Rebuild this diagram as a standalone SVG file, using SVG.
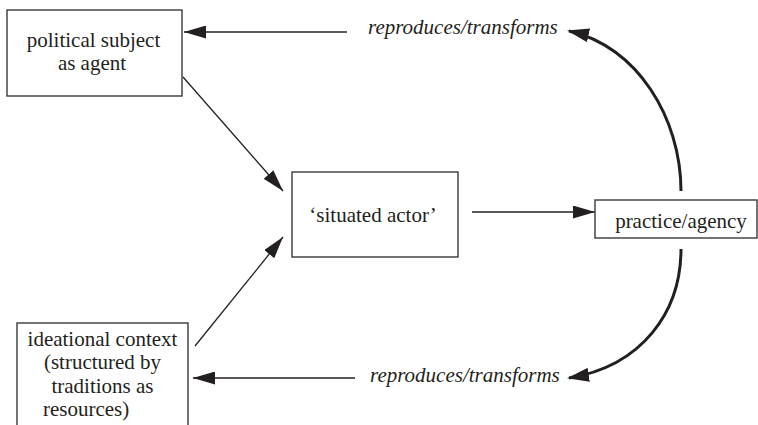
<svg xmlns="http://www.w3.org/2000/svg" width="758" height="425" viewBox="0 0 758 425">
<defs>
<style>
.box{fill:#fff;stroke:#3a3a3a;stroke-width:1.4}
.t{font-family:'Liberation Serif','Tinos','DejaVu Serif',serif;font-size:21px;fill:#231f20}
.it{font-style:italic}
.thin{fill:none;stroke:#231f20;stroke-width:1.3}
.thick{fill:none;stroke:#231f20;stroke-width:3}
</style>
<marker id="ah" markerUnits="userSpaceOnUse" markerWidth="22" markerHeight="13" refX="22" refY="6.5" orient="auto">
<path d="M0,0 L22,6.5 L0,13 z" fill="#231f20"/>
</marker>
<marker id="ahb" markerUnits="userSpaceOnUse" markerWidth="22" markerHeight="14" refX="20" refY="7" orient="auto">
<path d="M0,0 L22,7 L0,14 z" fill="#231f20"/>
</marker>
</defs>
<rect width="758" height="425" fill="#fff"/>
<g id="connectors">
<line class="thin" x1="347" y1="32" x2="184" y2="32" marker-end="url(#ah)"/>
<line class="thin" x1="355" y1="378" x2="193" y2="378" marker-end="url(#ah)"/>
<line class="thin" x1="183" y1="77" x2="283" y2="191" marker-end="url(#ah)"/>
<line class="thin" x1="195" y1="346" x2="283" y2="237" marker-end="url(#ah)"/>
<line class="thin" x1="472" y1="212" x2="595" y2="212" marker-end="url(#ah)"/>
<path class="thick" d="M681,191 C681,118 637,46 569,31" marker-end="url(#ahb)"/>
<path class="thick" d="M681,249 C681,312 642,366 569,378" marker-end="url(#ahb)"/>
</g>
<g id="label-top">
<text class="t it" x="368" y="34">reproduces/transforms</text>
</g>
<g id="label-bottom">
<text class="t it" x="370" y="382">reproduces/transforms</text>
</g>
<g id="political-subject">
<rect class="box" x="7" y="10" width="175" height="86"/>
<text class="t" x="93.5" y="47" text-anchor="middle">political subject</text>
<text class="t" x="92" y="70" text-anchor="middle">as agent</text>
</g>
<g id="situated-actor">
<rect class="box" x="292" y="172" width="166" height="85"/>
<text class="t" x="373" y="222" text-anchor="middle">‘situated actor’</text>
</g>
<g id="practice-agency">
<rect class="box" x="595" y="200" width="162" height="38"/>
<text class="t" x="681" y="228" text-anchor="middle">practice/agency</text>
</g>
<g id="ideational-context">
<rect class="box" x="17" y="323" width="171" height="115"/>
<text class="t" x="102.5" y="346" text-anchor="middle">ideational context</text>
<text class="t" x="102.5" y="369" text-anchor="middle">(structured by</text>
<text class="t" x="102.5" y="393" text-anchor="middle">traditions as</text>
<text class="t" x="43" y="416">resources)</text>
</g>
</svg>
